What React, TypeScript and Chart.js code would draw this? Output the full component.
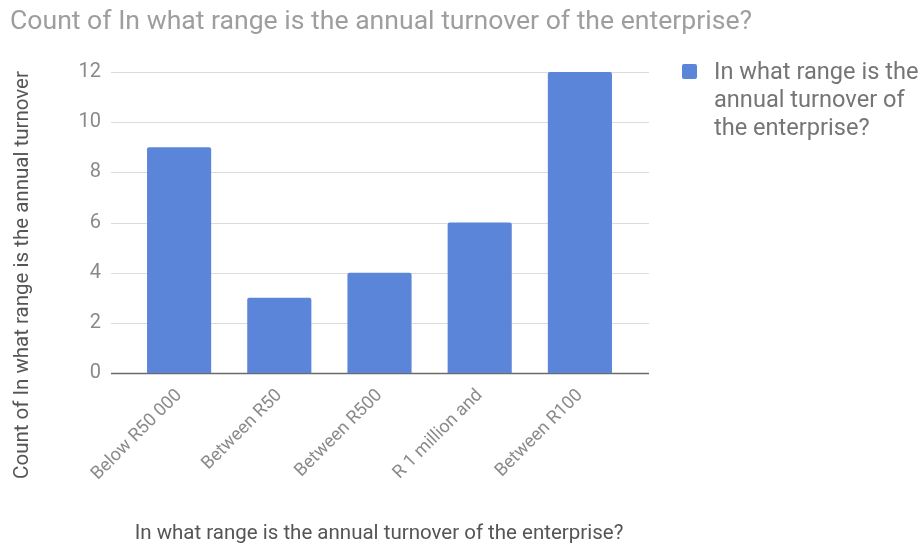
import React, { useEffect, useRef } from "react";
import { Chart, registerables } from "chart.js";

Chart.register(...registerables);

const categories = ["Below R50 000", "Between R50", "Between R500", "R 1 million and", "Between R100"];
const counts = [9, 3, 4, 6, 12];
const yTicks = [0, 2, 4, 6, 8, 10, 12];
const chartTitle = "Count of In what range is the annual turnover of the enterprise?";
const yAxisTitle = "Count of In what range is the annual turnover";
const xAxisTitle = "In what range is the annual turnover of the enterprise?";
const legendLines = ["In what range is the", "annual turnover of", "the enterprise?"];

const FONT = "Roboto, 'Noto Sans', Arial, sans-serif";
const BAR = "#5b85d8";

const overlay = {
  id: "overlay",
  beforeDatasetsDraw(chart: any) {
    const { ctx, chartArea, scales } = chart;
    const y = scales.y;
    ctx.save();
    const left = chartArea.left - 18;
    const right = chartArea.right + 19;
    yTicks.forEach((t) => {
      const py = Math.round(y.getPixelForValue(t)) + 0.5;
      ctx.beginPath();
      ctx.strokeStyle = t === 0 ? "#6b6b6b" : "#dcdcdc";
      ctx.lineWidth = t === 0 ? 1.5 : 1;
      ctx.moveTo(left, py);
      ctx.lineTo(right, py);
      ctx.stroke();
    });
    ctx.restore();
  },
  afterDraw(chart: any) {
    const { ctx } = chart;
    ctx.save();
    // main title
    ctx.fillStyle = "#9e9e9e";
    ctx.font = `26.6px ${FONT}`;
    ctx.textBaseline = "middle";
    ctx.textAlign = "left";
    ctx.fillText(chartTitle, 10, 22);
    // x axis title
    ctx.fillStyle = "#555555";
    ctx.font = `20.5px ${FONT}`;
    ctx.textAlign = "center";
    ctx.fillText(xAxisTitle, 379, 534);
    // y axis title
    ctx.save();
    ctx.translate(23, 275);
    ctx.rotate(-Math.PI / 2);
    ctx.fillText(yAxisTitle, 0, 0);
    ctx.restore();
    // legend
    ctx.fillStyle = BAR;
    ctx.beginPath();
    (ctx as any).roundRect ? (ctx as any).roundRect(682, 64, 15, 15, 2) : ctx.rect(682, 64, 15, 15);
    ctx.fill();
    ctx.fillStyle = "#757575";
    ctx.font = `23.6px ${FONT}`;
    ctx.textAlign = "left";
    legendLines.forEach((l, i) => ctx.fillText(l, 714, 73 + i * 28));
    ctx.restore();
  },
};

export default function App() {
  const ref = useRef<HTMLCanvasElement>(null);
  useEffect(() => {
    document.body.style.margin = "0";
    const chart = new Chart(ref.current!, {
      type: "bar",
      data: {
        labels: categories,
        datasets: [
          {
            label: legendLines.join(" "),
            data: counts,
            backgroundColor: BAR,
            borderRadius: { topLeft: 2, topRight: 2, bottomLeft: 0, bottomRight: 0 },
            borderSkipped: "bottom",
            categoryPercentage: 1,
            barPercentage: 0.64,
          },
        ],
      },
      options: {
        animation: false,
        responsive: false,
        maintainAspectRatio: false,
        layout: { padding: { left: 0, top: 72, right: 294, bottom: 0 } },
        plugins: {
          legend: { display: false },
          title: { display: false },
          tooltip: { enabled: false },
        },
        scales: {
          x: {
            grid: { display: false, drawTicks: false },
            border: { display: false },
            ticks: {
              color: "#8a8a8a",
              font: { family: FONT, size: 18 },
              minRotation: 45,
              maxRotation: 45,
              padding: 12,
              autoSkip: false,
            },
            afterFit(scale: any) {
              scale.height = 174;
            },
          },
          y: {
            min: 0,
            max: 12,
            grid: { display: false, drawTicks: false },
            border: { display: false },
            ticks: {
              stepSize: 2,
              color: "#8a8a8a",
              font: { family: FONT, size: 20 },
              padding: 28,
            },
            afterFit(scale: any) {
              scale.width = 129;
            },
          },
        },
      },
      plugins: [overlay],
    });
    return () => chart.destroy();
  }, []);
  return (
    <div style={{ position: "fixed", left: 0, top: 0, width: 924, height: 547, background: "#fff" }}>
      <canvas ref={ref} width={924} height={547} style={{ width: 924, height: 547 }} />
    </div>
  );
}
